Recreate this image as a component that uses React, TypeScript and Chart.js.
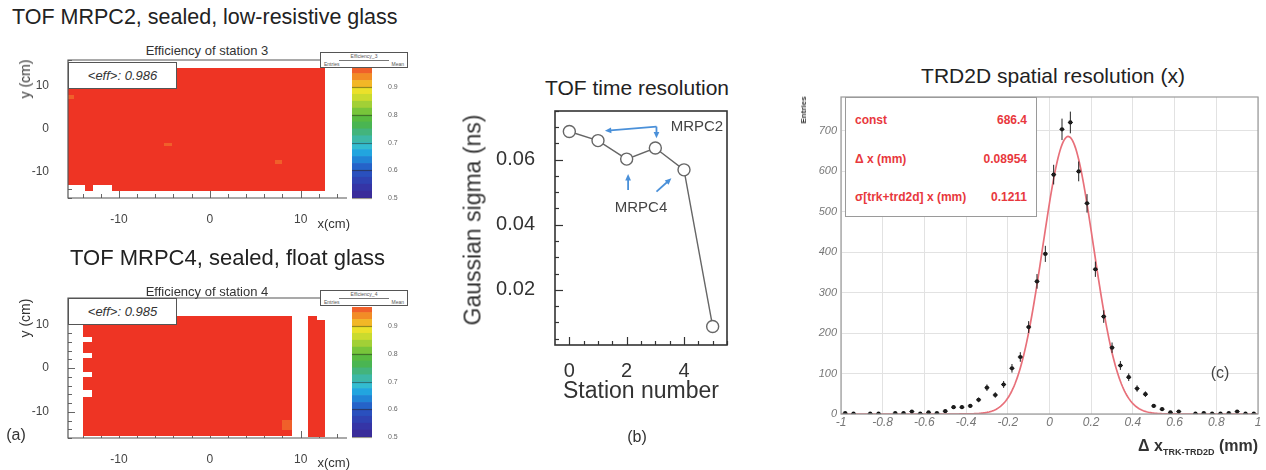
import React, { useEffect, useRef } from 'react';
import { Chart, registerables } from 'chart.js';
Chart.register(...registerables);

const SANS = '"Liberation Sans", Arial, Helvetica, sans-serif';

// ================= Panel (a): efficiency maps =================
const mapXRange = [-15.6, 15.1];
const mapYRange = [-16, 16];
const mapXTickLabels = [-10, 0, 10];
const mapYTickLabels = [-10, 0, 10];
const mapMinorStep = 2;

const zRange = [0.5, 0.97];
const zTickLabels = [0.5, 0.6, 0.7, 0.8, 0.9];
const zBandEdges = [0.5, 0.525, 0.55, 0.575, 0.6, 0.625, 0.65, 0.675, 0.7, 0.725, 0.75, 0.775, 0.8, 0.825, 0.85, 0.875, 0.9, 0.925, 0.95, 0.97];
const zBandColors = ['#3a2c9a', '#3535a6', '#2f42b2', '#2a50be', '#2563c9', '#2184d6', '#22a5df', '#33bcd0', '#3db8a6', '#43b47c', '#4ab552', '#58bb40', '#78c53a', '#a2d036', '#cadb2e', '#ebe12a', '#f2b726', '#f28c26', '#f0602a'];
const aboveRangeColor = '#ee3424';

// cells: [xMin, xMax, yMin, yMax, efficiency]
const station3Cells = [
  [-15.6, 12.65, -13.0, 14.1, 0.986],
  [-13.7, -12.8, -14.4, -13.0, 0.986],
  [-10.8, 12.65, -14.4, -13.0, 0.986],
  [-5.0, -4.2, -4.0, -3.2, 0.962],
  [7.2, 8.0, -8.0, -7.2, 0.962],
  [-15.6, -14.9, 7.0, 7.8, 0.962],
];
const station4Cells = [
  [-13.0, 9.0, -15.5, 11.9, 0.985],
  [-13.9, -13.0, -15.5, -6.6, 0.985],
  [-13.9, -13.0, -5.0, -2.0, 0.985],
  [-13.9, -13.0, -0.8, 2.2, 0.985],
  [-13.9, -13.0, 3.4, 6.0, 0.985],
  [-13.9, -13.0, 7.2, 11.9, 0.985],
  [10.8, 11.8, -15.7, 11.9, 0.985],
  [11.8, 12.7, -15.7, 11.0, 0.985],
  [8.0, 9.0, -14.2, -11.8, 0.962],
];
const station3Mean = '0.986';
const station4Mean = '0.985';

// ================= Panel (b): TOF time resolution =================
const stationNumbers = [0, 1, 2, 3, 4, 5];
const timeSigma = [0.0687, 0.0659, 0.0602, 0.0636, 0.0569, 0.0087];
const bXRange = [-0.5, 5.5];
const bYRange = [0.003, 0.075];
const bXTickLabels = [0, 2, 4];
const bYTickLabels = [0.02, 0.04, 0.06];
// arrows in data coordinates [x0, y0, x1, y1]
const mrpc2Arrows = [[3.04, 0.0702, 1.24, 0.0689], [3.04, 0.0702, 3.04, 0.0666]];
const mrpc4Arrows = [[2.05, 0.0507, 2.05, 0.0556], [3.04, 0.0502, 3.56, 0.0543]];
const annotationLabels: [string, number, number][] = [['MRPC2', 4.45, 0.0701], ['MRPC4', 2.5, 0.0452]];

// ================= Panel (c): TRD2D spatial resolution =================
const resBinCenters = [-0.98, -0.94, -0.90, -0.86, -0.82, -0.78, -0.74, -0.70, -0.66, -0.62, -0.58, -0.54, -0.50, -0.46, -0.42, -0.38, -0.34, -0.30, -0.26, -0.22, -0.18, -0.14, -0.10, -0.06, -0.02, 0.02, 0.06, 0.10, 0.14, 0.18, 0.22, 0.26, 0.30, 0.34, 0.38, 0.42, 0.46, 0.50, 0.54, 0.58, 0.62, 0.66, 0.70, 0.74, 0.78, 0.82, 0.86, 0.90, 0.94, 0.98];
const resCounts = [2, 1, null, 1, 1, null, 2, 2, 6, 1, 4, 2, 7, 17, 17, 20, 35, 65, 47, 73, 113, 141, 215, 328, 396, 592, 704, 721, 600, 521, 358, 241, 164, 120, 91, 63, 49, 20, 12, 4, 6, null, 1, 2, 1, 1, 2, 6, 1, 1];
const fitConst = 686.4;
const fitMean = 0.08954;
const fitSigma = 0.1211;
const cXRange = [-1, 1];
const cYRange = [0, 784];
const cXTickLabels = [-1, -0.8, -0.6, -0.4, -0.2, 0, 0.2, 0.4, 0.6, 0.8, 1];
const cYTickLabels = [0, 100, 200, 300, 400, 500, 600, 700];
const statsRows: [string, string][] = [['const', '686.4'], ['\u0394 x (mm)', '0.08954'], ['\u03c3[trk+trd2d] x (mm)', '0.1211']];

// ---------------- helpers ----------------
function effColor(e: number) {
  if (e >= zRange[1]) return aboveRangeColor;
  for (let i = 0; i < zBandColors.length; i++) {
    if (e >= zBandEdges[i] && e < zBandEdges[i + 1]) return zBandColors[i];
  }
  return zBandColors[0];
}

const fixTicks = (vals: number[]) => (s: any) => {
  s.ticks = vals.map((v) => ({ value: v }));
};

function mapPlugin(cells: number[][]) {
  return {
    id: 'mapCells',
    beforeDatasetsDraw(chart: any) {
      const { ctx, chartArea: a, scales } = chart;
      const xs = scales.x;
      const ys = scales.y;
      ctx.save();
      ctx.strokeStyle = '#666';
      ctx.lineWidth = 1;
      for (let v = Math.ceil(xs.min / mapMinorStep) * mapMinorStep; v <= xs.max; v += mapMinorStep) {
        const px = Math.round(xs.getPixelForValue(v)) + 0.5;
        const len = v % 10 === 0 ? 7 : 4;
        ctx.beginPath();
        ctx.moveTo(px, a.bottom);
        ctx.lineTo(px, a.bottom - len);
        ctx.stroke();
      }
      for (let v = Math.ceil(ys.min / mapMinorStep) * mapMinorStep; v <= ys.max; v += mapMinorStep) {
        const py = Math.round(ys.getPixelForValue(v)) + 0.5;
        const len = v % 10 === 0 ? 7 : 4;
        ctx.beginPath();
        ctx.moveTo(a.left, py);
        ctx.lineTo(a.left + len, py);
        ctx.stroke();
      }
      ctx.beginPath();
      ctx.rect(a.left, a.top, a.width, a.height);
      ctx.clip();
      for (const c of cells) {
        const px0 = Math.round(xs.getPixelForValue(c[0]));
        const px1 = Math.round(xs.getPixelForValue(c[1]));
        const py0 = Math.round(ys.getPixelForValue(c[3]));
        const py1 = Math.round(ys.getPixelForValue(c[2]));
        ctx.fillStyle = effColor(c[4]);
        ctx.fillRect(px0, py0, px1 - px0, py1 - py0);
      }
      ctx.restore();
      ctx.save();
      ctx.strokeStyle = '#555';
      ctx.lineWidth = 1.2;
      ctx.beginPath();
      ctx.moveTo(a.right, a.top);
      ctx.lineTo(a.left, a.top);
      ctx.lineTo(a.left, a.bottom);
      ctx.lineTo(a.right, a.bottom);
      ctx.stroke();
      ctx.restore();
    },
  };
}

function makeMap(canvas: HTMLCanvasElement, cells: number[][]) {
  return new Chart(canvas, {
    type: 'scatter',
    data: { datasets: [{ data: [] }] },
    options: {
      animation: false,
      responsive: false,
      devicePixelRatio: 1,
      layout: { padding: { left: 0, top: 24, right: 13, bottom: 0 } },
      plugins: { legend: { display: false }, tooltip: { enabled: false } },
      scales: {
        x: {
          type: 'linear',
          min: mapXRange[0],
          max: mapXRange[1],
          grid: { display: false },
          border: { display: false },
          afterFit: (s: any) => { s.height = 28; },
          afterBuildTicks: fixTicks(mapXTickLabels),
          ticks: { padding: 6, font: { size: 12, family: SANS }, color: '#444', maxRotation: 0, callback: (v: any) => String(v) },
        },
        y: {
          type: 'linear',
          min: mapYRange[0],
          max: mapYRange[1],
          grid: { display: false },
          border: { display: false },
          afterFit: (s: any) => { s.width = 68; },
          afterBuildTicks: fixTicks(mapYTickLabels),
          ticks: { padding: 11, font: { size: 12, family: SANS }, color: '#444', callback: (v: any) => String(v) },
        },
      },
    } as any,
    plugins: [mapPlugin(cells)],
  });
}

const colorbarTicksPlugin = {
  id: 'cbTicks',
  afterDatasetsDraw(chart: any) {
    const { ctx, chartArea: a, scales } = chart;
    ctx.save();
    ctx.strokeStyle = 'rgba(40,30,10,0.45)';
    ctx.lineWidth = 1.2;
    for (const v of zTickLabels) {
      const py = Math.round(scales.y.getPixelForValue(v)) + 0.5;
      ctx.beginPath();
      ctx.moveTo(a.left, py);
      ctx.lineTo(a.right, py);
      ctx.stroke();
    }
    ctx.restore();
  },
};

function makeColorbar(canvas: HTMLCanvasElement) {
  return new Chart(canvas, {
    type: 'bar',
    data: {
      labels: ['z'],
      datasets: zBandColors.map((c, i) => ({
        data: [[zBandEdges[i], zBandEdges[i + 1]]],
        backgroundColor: c,
        borderWidth: 0,
        grouped: false,
        barPercentage: 1,
        categoryPercentage: 1,
      })),
    },
    options: {
      animation: false,
      responsive: false,
      devicePixelRatio: 1,
      layout: { padding: { left: 12, top: 24, right: 0, bottom: 26 } },
      plugins: { legend: { display: false }, tooltip: { enabled: false } },
      scales: {
        x: { display: false },
        y: {
          position: 'right',
          min: zRange[0],
          max: zRange[1],
          grid: { display: false },
          border: { display: false },
          afterFit: (s: any) => { s.width = 38; },
          afterBuildTicks: fixTicks(zTickLabels),
          ticks: { padding: 8, font: { size: 7, family: SANS }, color: '#666', callback: (v: any) => Number(v).toFixed(1) },
        },
      },
    } as any,
    plugins: [colorbarTicksPlugin],
  });
}

function drawArrow(ctx: CanvasRenderingContext2D, x0: number, y0: number, x1: number, y1: number) {
  const head = 7;
  const ang = Math.atan2(y1 - y0, x1 - x0);
  const bx = x1 - head * 0.8 * Math.cos(ang);
  const by = y1 - head * 0.8 * Math.sin(ang);
  ctx.beginPath();
  ctx.moveTo(x0, y0);
  ctx.lineTo(bx, by);
  ctx.stroke();
  ctx.beginPath();
  ctx.moveTo(x1, y1);
  ctx.lineTo(x1 - head * Math.cos(ang - 0.42), y1 - head * Math.sin(ang - 0.42));
  ctx.lineTo(x1 - head * Math.cos(ang + 0.42), y1 - head * Math.sin(ang + 0.42));
  ctx.closePath();
  ctx.fill();
}

const timeResPlugin = {
  id: 'timeRes',
  afterDraw(chart: any) {
    const { ctx, chartArea: a, scales } = chart;
    const xs = scales.x;
    const ys = scales.y;
    ctx.save();
    ctx.strokeStyle = '#333';
    ctx.lineWidth = 1.2;
    for (let v = 0; v <= xs.max; v += 0.5) {
      const px = Math.round(xs.getPixelForValue(v)) + 0.5;
      const len = v % 2 === 0 ? 8 : 4;
      ctx.beginPath();
      ctx.moveTo(px, a.bottom);
      ctx.lineTo(px, a.bottom - len);
      ctx.stroke();
    }
    for (let k = 1; k * 0.005 <= ys.max + 1e-9; k++) {
      const v = k * 0.005;
      const py = Math.round(ys.getPixelForValue(v)) + 0.5;
      const len = k % 4 === 0 ? 8 : 4;
      ctx.beginPath();
      ctx.moveTo(a.left, py);
      ctx.lineTo(a.left + len, py);
      ctx.stroke();
    }
    ctx.lineWidth = 1.6;
    ctx.strokeStyle = '#333';
    ctx.strokeRect(a.left, a.top, a.width, a.height);
    ctx.strokeStyle = '#4a90d9';
    ctx.fillStyle = '#4a90d9';
    ctx.lineWidth = 1.8;
    for (const ar of [...mrpc2Arrows, ...mrpc4Arrows]) {
      drawArrow(ctx, xs.getPixelForValue(ar[0]), ys.getPixelForValue(ar[1]), xs.getPixelForValue(ar[2]), ys.getPixelForValue(ar[3]));
    }
    ctx.fillStyle = '#444';
    ctx.font = `15px ${SANS}`;
    ctx.textAlign = 'center';
    ctx.textBaseline = 'middle';
    for (const [t, x, y] of annotationLabels) {
      ctx.fillText(t, xs.getPixelForValue(x), ys.getPixelForValue(y));
    }
    ctx.restore();
  },
};

function makeTimeRes(canvas: HTMLCanvasElement) {
  return new Chart(canvas, {
    type: 'scatter',
    data: {
      datasets: [
        {
          data: stationNumbers.map((s, i) => ({ x: s, y: timeSigma[i] })),
          showLine: true,
          borderColor: '#666',
          borderWidth: 1.4,
          pointRadius: 6,
          pointBorderWidth: 1.4,
          pointBorderColor: '#666',
          pointBackgroundColor: '#ffffff',
        },
      ],
    },
    options: {
      animation: false,
      responsive: false,
      devicePixelRatio: 1,
      layout: { padding: { left: 0, top: 26, right: 13, bottom: 0 } },
      plugins: { legend: { display: false }, tooltip: { enabled: false } },
      scales: {
        x: {
          type: 'linear',
          min: bXRange[0],
          max: bXRange[1],
          grid: { display: false },
          border: { display: false },
          afterFit: (s: any) => { s.height = 40; },
          afterBuildTicks: fixTicks(bXTickLabels),
          ticks: { padding: 6, font: { size: 20, family: SANS }, color: '#333', maxRotation: 0, callback: (v: any) => String(v) },
        },
        y: {
          type: 'linear',
          min: bYRange[0],
          max: bYRange[1],
          grid: { display: false },
          border: { display: false },
          afterFit: (s: any) => { s.width = 115; },
          afterBuildTicks: fixTicks(bYTickLabels),
          ticks: { padding: 12, font: { size: 20, family: SANS }, color: '#333', callback: (v: any) => Number(v).toFixed(2) },
        },
      },
    } as any,
    plugins: [timeResPlugin],
  });
}

const resPlugin = {
  id: 'resErr',
  afterDatasetsDraw(chart: any) {
    const { ctx, scales } = chart;
    const xs = scales.x;
    const ys = scales.y;
    ctx.save();
    ctx.strokeStyle = '#222';
    ctx.lineWidth = 1;
    resBinCenters.forEach((x, i) => {
      const n = resCounts[i];
      if (n === null) return;
      const e = Math.sqrt(n);
      const px = xs.getPixelForValue(x);
      ctx.beginPath();
      ctx.moveTo(px, ys.getPixelForValue(Math.max(0, n - e)));
      ctx.lineTo(px, ys.getPixelForValue(n + e));
      ctx.moveTo(xs.getPixelForValue(x - 0.012), ys.getPixelForValue(n));
      ctx.lineTo(xs.getPixelForValue(x + 0.012), ys.getPixelForValue(n));
      ctx.stroke();
    });
    ctx.restore();
  },
  afterDraw(chart: any) {
    const { ctx, chartArea: a } = chart;
    ctx.save();
    ctx.strokeStyle = '#9a9a9a';
    ctx.lineWidth = 1.2;
    ctx.strokeRect(a.left, a.top, a.width, a.height);
    ctx.restore();
  },
};

function makeRes(canvas: HTMLCanvasElement) {
  const fitPts: { x: number; y: number }[] = [];
  for (let i = 0; i <= 400; i++) {
    const x = cXRange[0] + (i * (cXRange[1] - cXRange[0])) / 400;
    fitPts.push({ x, y: fitConst * Math.exp(-0.5 * ((x - fitMean) / fitSigma) ** 2) });
  }
  const pts = resBinCenters
    .map((x, i) => ({ x, y: resCounts[i] }))
    .filter((p) => p.y !== null);
  return new Chart(canvas, {
    type: 'scatter',
    data: {
      datasets: [
        { data: pts, pointRadius: 2.1, pointBackgroundColor: '#111', pointBorderWidth: 0, showLine: false },
        { data: fitPts, showLine: true, borderColor: '#e8707a', borderWidth: 1.7, pointRadius: 0 },
      ],
    },
    options: {
      animation: false,
      responsive: false,
      devicePixelRatio: 1,
      layout: { padding: { left: 0, top: 27, right: 8, bottom: 0 } },
      plugins: { legend: { display: false }, tooltip: { enabled: false } },
      scales: {
        x: {
          type: 'linear',
          min: cXRange[0],
          max: cXRange[1],
          grid: { display: true, drawTicks: false, color: '#e2e2e2', lineWidth: 1 },
          border: { display: false },
          afterFit: (s: any) => { s.height = 26; },
          afterBuildTicks: fixTicks(cXTickLabels),
          ticks: { padding: 1, font: { size: 12, family: SANS, style: 'italic' }, color: '#777', maxRotation: 0, callback: (v: any) => String(Math.round(Number(v) * 10) / 10) },
        },
        y: {
          type: 'linear',
          min: cYRange[0],
          max: cYRange[1],
          grid: { display: true, drawTicks: false, color: '#e2e2e2', lineWidth: 1 },
          border: { display: false },
          afterFit: (s: any) => { s.width = 61; },
          afterBuildTicks: fixTicks(cYTickLabels),
          ticks: { padding: 4, font: { size: 11, family: SANS, style: 'italic' }, color: '#777', callback: (v: any) => String(v) },
        },
      },
    } as any,
    plugins: [resPlugin],
  });
}

// ---------------- React components ----------------
function ChartCanvas({ x, y, w, h, make }: { x: number; y: number; w: number; h: number; make: (c: HTMLCanvasElement) => Chart }) {
  const ref = useRef<HTMLCanvasElement>(null);
  useEffect(() => {
    const chart = make(ref.current as HTMLCanvasElement);
    return () => chart.destroy();
  }, []);
  return <canvas ref={ref} width={w} height={h} style={{ position: 'absolute', left: x, top: y, width: w, height: h }} />;
}

function Txt({ x, y, children, size = 12, align = 'center', rot = 0, style = {} }: any) {
  const tx = align === 'center' ? '-50%' : align === 'right' ? '-100%' : '0';
  return (
    <div
      style={{
        position: 'absolute',
        left: x,
        top: y,
        transform: `translate(${tx}, -50%) rotate(${rot}deg)`,
        fontFamily: SANS,
        fontSize: size,
        lineHeight: 1,
        whiteSpace: 'nowrap',
        color: '#222',
        ...style,
      }}
    >
      {children}
    </div>
  );
}

function EffBox({ top, value }: { top: number; value: string }) {
  return (
    <div
      style={{
        position: 'absolute', left: 68, top, width: 109, height: 27, boxSizing: 'border-box',
        border: '1.5px solid #555', background: '#fff', display: 'flex', alignItems: 'center', justifyContent: 'center',
        fontFamily: SANS, fontSize: 13, fontStyle: 'italic', color: '#333',
      }}
    >
      {'<eff>: ' + value}
    </div>
  );
}

function MiniStats({ top, name }: { top: number; name: string }) {
  return (
    <div style={{ position: 'absolute', left: 320, top, width: 88, height: 16, boxSizing: 'border-box', border: '1px solid #555', background: '#fff', fontFamily: SANS, fontSize: 5, color: '#555', lineHeight: '7px' }}>
      <div style={{ textAlign: 'center', borderBottom: '1px solid #777', margin: '0 18px' }}>{name}</div>
      <div style={{ display: 'flex', justifyContent: 'space-between', padding: '0 3px' }}>
        <span>Entries</span>
        <span>Mean</span>
      </div>
    </div>
  );
}

export default function App() {
  return (
    <div style={{ position: 'fixed', left: 0, top: 0, width: 1266, height: 470, background: '#fff', overflow: 'hidden' }}>
      {/* Panel (a) */}
      <Txt x={12} y={18} size={21.5} align="left" style={{ color: '#222' }}>TOF MRPC2, sealed, low-resistive glass</Txt>
      <Txt x={207} y={50} size={13} style={{ color: '#333' }}>Efficiency of station 3</Txt>
      <ChartCanvas x={0} y={36} w={360} h={190} make={(c) => makeMap(c, station3Cells)} />
      <ChartCanvas x={340} y={44} w={70} h={180} make={makeColorbar} />
      <EffBox top={62} value={station3Mean} />
      <MiniStats top={52} name="Efficiency_3" />
      <Txt x={25} y={79} size={14} rot={-90} style={{ color: '#333' }}>y (cm)</Txt>
      <Txt x={350} y={223} size={13} align="right" style={{ color: '#333' }}>x(cm)</Txt>

      <Txt x={70} y={258} size={22} align="left" style={{ color: '#222' }}>TOF MRPC4, sealed, float glass</Txt>
      <Txt x={207} y={291} size={13} style={{ color: '#333' }}>Efficiency of station 4</Txt>
      <ChartCanvas x={0} y={274} w={360} h={192} make={(c) => makeMap(c, station4Cells)} />
      <ChartCanvas x={340} y={283} w={70} h={180} make={makeColorbar} />
      <EffBox top={298} value={station4Mean} />
      <MiniStats top={290} name="Efficiency_4" />
      <Txt x={25} y={318} size={14} rot={-90} style={{ color: '#333' }}>y (cm)</Txt>
      <Txt x={350} y={462} size={13} align="right" style={{ color: '#333' }}>x(cm)</Txt>
      <Txt x={16} y={435} size={16} style={{ color: '#333' }}>(a)</Txt>

      {/* Panel (b) */}
      <Txt x={637} y={87} size={21}>TOF time resolution</Txt>
      <ChartCanvas x={440} y={85} w={300} h={300} make={makeTimeRes} />
      <Txt x={473} y={220} size={23} rot={-90} style={{ color: '#333' }}>Gaussian sigma (ns)</Txt>
      <Txt x={641} y={390} size={23} style={{ color: '#333' }}>Station number</Txt>
      <Txt x={637} y={437} size={16} style={{ color: '#333' }}>(b)</Txt>

      {/* Panel (c) */}
      <Txt x={1053} y={75} size={21}>TRD2D spatial resolution (x)</Txt>
      <ChartCanvas x={780} y={70} w={486} h={370} make={makeRes} />
      <div style={{ position: 'absolute', left: 845, top: 97, width: 192, height: 120, boxSizing: 'border-box', border: '1.2px solid #9a9a9a', background: '#fff' }}>
        {statsRows.map(([k, v], i) => (
          <div key={k} style={{ position: 'absolute', left: 9, right: 9, top: 16 + i * 38.5, display: 'flex', justifyContent: 'space-between', fontFamily: SANS, fontWeight: 'bold', fontSize: 12, lineHeight: 1, color: '#e8383d' }}>
            <span>{k}</span>
            <span>{v}</span>
          </div>
        ))}
      </div>
      <Txt x={804} y={110} size={8} rot={-90} style={{ fontWeight: 'bold', color: '#333' }}>Entries</Txt>
      <Txt x={1220} y={373} size={16} style={{ color: '#444' }}>(c)</Txt>
      <Txt x={1258} y={447} size={16} align="right" style={{ fontWeight: 'bold', color: '#333' }}>
        {'\u0394 x'}<span style={{ fontSize: 9, verticalAlign: '-4px' }}>TRK-TRD2D</span>{' (mm)'}
      </Txt>
    </div>
  );
}
